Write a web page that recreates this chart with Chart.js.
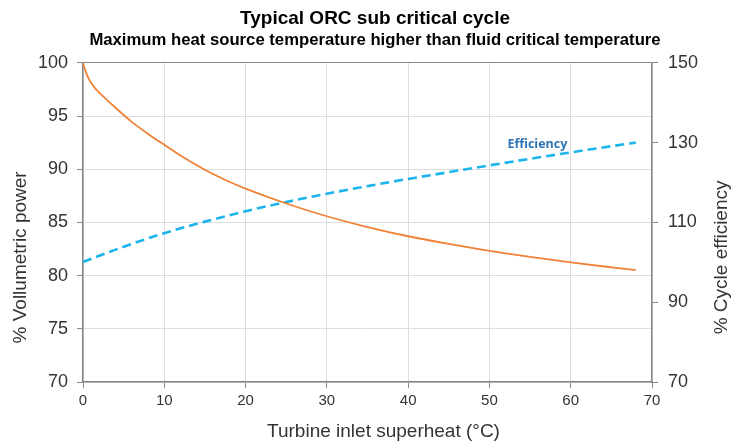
<!DOCTYPE html>
<html><head><meta charset="utf-8">
<script src="https://cdn.jsdelivr.net/npm/chart.js@4.4.0/dist/chart.umd.min.js"></script>
<style>html,body{margin:0;padding:0;background:#fff;}#wrap{width:732px;height:442px;position:relative;}</style>
</head><body><div id="wrap"><canvas id="c"></canvas></div>
<script>
// ---- data ----
const titleText = 'Typical ORC sub critical cycle';
const subtitleText = 'Maximum heat source temperature higher than fluid critical temperature';
const xTitle = 'Turbine inlet superheat (°C)';
const yLeftTitle = '% Vollumetric power';
const yRightTitle = '% Cycle efficiency';
const seriesLabel = 'Efficiency';

const powerX = [0,0.25,0.5,0.75,1,1.5,2,3,4,5,6,8,10,12,14,16,18,20,25,30,35,40,45,50,55,60,65,68];
const volumetricPower = [100,99.35,98.85,98.45,98.12,97.6,97.2,96.48,95.78,95.1,94.45,93.32,92.3,91.3,90.38,89.55,88.82,88.18,86.78,85.58,84.56,83.7,82.98,82.33,81.76,81.24,80.78,80.52];
const effX = [0,5,10,15,20,25,30,35,40,45,50,55,60,65,68];
const cycleEfficiency = [100.1,103.9,107.3,110.2,112.8,115.1,117.2,119.1,120.9,122.6,124.3,125.95,127.55,129.1,130.0];
const labelAt = [55.9, 129.6]; // data coords (x, right-axis value)

const xTicks = {min:0, max:70, step:10};
const yLeftTicks = {min:70, max:100, step:5};
const yRightTicks = {min:70, max:150, step:20};

// ---- chart ----
const AX = '#868686', GRID = '#DDDDDD', TXT = '#333333';
const FONT = '"Liberation Sans", Arial, sans-serif';

const textPlugin = {
  id: 'textPlugin',
  afterDraw(chart){
    const {ctx, chartArea:a, scales} = chart;
    ctx.save();
    ctx.fillStyle = TXT;
    ctx.font = '19px ' + FONT;
    ctx.textAlign = 'center'; ctx.textBaseline = 'middle';
    const midY = (a.top + a.bottom)/2 + 35;
    ctx.fillText(xTitle, (a.left + a.right)/2 + 16, a.bottom + 50);
    ctx.save(); ctx.translate(20.5, midY); ctx.rotate(-Math.PI/2); ctx.fillText(yLeftTitle, 0, 0); ctx.restore();
    ctx.save(); ctx.translate(722, midY); ctx.rotate(-Math.PI/2); ctx.fillText(yRightTitle, 0, 0); ctx.restore();
    ctx.font = 'bold 12.5px "Open Sans", sans-serif';
    ctx.fillStyle = '#2E75B6';
    ctx.fillText(seriesLabel, scales.x.getPixelForValue(labelAt[0]), scales.y1.getPixelForValue(labelAt[1]));
    ctx.restore();
  }
};

new Chart(document.getElementById('c'), {
  type: 'line',
  data: {
    datasets: [
      {
        label: 'Volumetric power',
        data: powerX.map((x,i)=>({x, y: volumetricPower[i]})),
        yAxisID: 'y',
        borderColor: '#F08236',
        borderWidth: 1.8,
        pointRadius: 0,
        cubicInterpolationMode: 'monotone',
        fill: false
      },
      {
        label: seriesLabel,
        data: effX.map((x,i)=>({x, y: cycleEfficiency[i]})),
        yAxisID: 'y1',
        borderColor: '#1CB4EC',
        borderWidth: 2.6,
        borderDash: [9,5],
        pointRadius: 0,
        cubicInterpolationMode: 'monotone',
        fill: false
      }
    ]
  },
  options: {
    responsive: true,
    maintainAspectRatio: false,
    animation: false,
    layout: {padding: {left: 18, right: 0, top: 0, bottom: 0}},
    plugins: {
      legend: {display: false},
      tooltip: {enabled: false},
      title: {display: true, text: titleText, color: '#000', font: {family: FONT, size: 19, weight: 'bold'}, padding: {top: 7, bottom: 0}},
      subtitle: {display: true, text: subtitleText, color: '#000', font: {family: FONT, size: 16.7, weight: 'bold'}, padding: {top: 1, bottom: 12}}
    },
    scales: {
      x: {
        type: 'linear', min: xTicks.min, max: xTicks.max,
        ticks: {stepSize: xTicks.step, color: TXT, font: {family: FONT, size: 15}, padding: 4},
        grid: {color: GRID, tickColor: AX, tickLength: 6},
        border: {color: AX, width: 1.5},
        afterFit(s){ s.height = 60; }
      },
      y: {
        position: 'left', min: yLeftTicks.min, max: yLeftTicks.max,
        ticks: {stepSize: yLeftTicks.step, color: TXT, font: {family: FONT, size: 18}, padding: 9},
        grid: {color: c => (c.tick && c.tick.value === yLeftTicks.max) ? AX : GRID, tickColor: AX, tickLength: 6},
        border: {color: AX, width: 1.5},
        afterFit(s){ s.width = 65; }
      },
      y1: {
        position: 'right', min: yRightTicks.min, max: yRightTicks.max,
        ticks: {stepSize: yRightTicks.step, color: TXT, font: {family: FONT, size: 18}, padding: 10},
        grid: {drawOnChartArea: false, tickColor: AX, tickLength: 6},
        border: {color: AX, width: 1.5},
        afterFit(s){ s.width = 80; }
      }
    }
  },
  plugins: [textPlugin]
});
</script>
</body></html>
